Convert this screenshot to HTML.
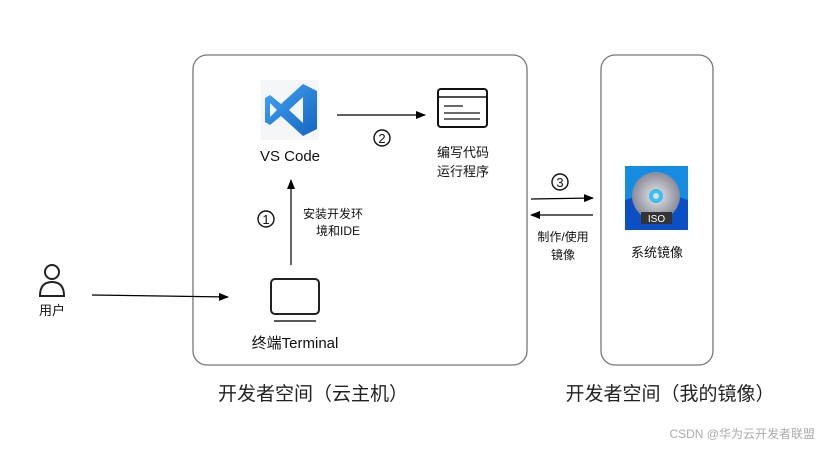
<!DOCTYPE html>
<html><head><meta charset="utf-8"><style>
html,body{margin:0;padding:0;background:#fff}
svg{display:block}
text{font-family:"Liberation Sans","Noto Sans CJK SC",sans-serif;fill:#111}
</style></head><body>
<svg width="827" height="449" viewBox="0 0 827 449" xmlns="http://www.w3.org/2000/svg">
<defs>
<marker id="a" markerWidth="10" markerHeight="8" refX="9" refY="4" orient="auto" markerUnits="userSpaceOnUse"><path d="M0,0 L10,4 L0,8 Z" fill="#000"/></marker>
<linearGradient id="vs" x1="0" y1="0" x2="1" y2="1"><stop offset="0" stop-color="#42a5f5"/><stop offset="1" stop-color="#1565c0"/></linearGradient>
<radialGradient id="cd" cx="0.5" cy="0.5" r="0.5"><stop offset="0" stop-color="#e8e8e8"/><stop offset="1" stop-color="#8a8a9a"/></radialGradient>
</defs>
<rect x="193" y="55" width="334" height="310" rx="14" fill="none" stroke="#777" stroke-width="1.3"/>
<rect x="601" y="55" width="112" height="310" rx="14" fill="none" stroke="#777" stroke-width="1.3"/>

<rect x="261" y="80" width="58" height="60" fill="#f4f6f8"/>
<path d="M303,84 L317,91 L317,129 L303,136 L281,116 L270,125 L265,122 L265,98 L270,95 L281,104 Z M303,97 L289,110 L303,123 Z M270,103 L270,117 L277,110 Z" fill="url(#vs)" fill-rule="evenodd"/>
<text x="290" y="161" font-size="15" text-anchor="middle">VS Code</text>

<rect x="438" y="89" width="49" height="38" rx="3" fill="#fff" stroke="#111" stroke-width="2"/>
<line x1="438" y1="97" x2="487" y2="97" stroke="#111" stroke-width="1.5"/>
<line x1="444" y1="106" x2="463" y2="106" stroke="#111" stroke-width="1.2"/>
<line x1="444" y1="113" x2="480" y2="113" stroke="#111" stroke-width="1.2"/>
<line x1="444" y1="119" x2="480" y2="119" stroke="#111" stroke-width="1.2"/>
<text x="463" y="157" font-size="13" text-anchor="middle">编写代码</text>
<text x="463" y="176" font-size="13" text-anchor="middle">运行程序</text>

<line x1="337" y1="115" x2="425" y2="115" stroke="#000" stroke-width="1.2" marker-end="url(#a)"/>
<circle cx="382" cy="138" r="8" fill="none" stroke="#111" stroke-width="1.4"/>
<text x="382" y="143" font-size="13" text-anchor="middle">2</text>

<line x1="291" y1="265" x2="291" y2="180" stroke="#000" stroke-width="1.2" marker-end="url(#a)"/>
<circle cx="266" cy="219" r="8" fill="none" stroke="#111" stroke-width="1.4"/>
<text x="266" y="224" font-size="13" text-anchor="middle">1</text>
<text x="303" y="218" font-size="12">安装开发环</text>
<text x="316" y="235" font-size="12">境和IDE</text>

<rect x="271" y="279" width="48" height="35" rx="4" fill="none" stroke="#222" stroke-width="2"/>
<line x1="274" y1="321" x2="316" y2="321" stroke="#222" stroke-width="1.5"/>
<text x="295" y="348" font-size="15" text-anchor="middle">终端Terminal</text>

<circle cx="52" cy="272" r="7" fill="none" stroke="#222" stroke-width="2"/>
<path d="M40,296 Q40,282 52,282 Q64,282 64,296 Z" fill="none" stroke="#222" stroke-width="2"/>
<text x="52" y="315" font-size="13" text-anchor="middle">用户</text>
<line x1="92" y1="295" x2="228" y2="297" stroke="#000" stroke-width="1.2" marker-end="url(#a)"/>

<circle cx="560" cy="182" r="8" fill="none" stroke="#111" stroke-width="1.4"/>
<text x="560" y="187" font-size="13" text-anchor="middle">3</text>
<line x1="531" y1="199" x2="593" y2="198" stroke="#000" stroke-width="1.2" marker-end="url(#a)"/>
<line x1="593" y1="215" x2="531" y2="215" stroke="#000" stroke-width="1.2" marker-end="url(#a)"/>
<text x="563" y="241" font-size="12" text-anchor="middle">制作/使用</text>
<text x="563" y="259" font-size="12" text-anchor="middle">镜像</text>

<rect x="625" y="166" width="63" height="64" fill="#0a4fc4"/>
<path d="M625,166 L688,166 L688,200 L656,190 L625,200 Z" fill="#1aa6ef" opacity="0.7"/>
<circle cx="656" cy="196" r="24" fill="url(#cd)"/>
<circle cx="656" cy="196" r="7" fill="#3ac0f0"/>
<circle cx="656" cy="196" r="3" fill="#ddd"/>
<rect x="641" y="212" width="31" height="12" fill="#333"/>
<text x="656.5" y="222" font-size="10" text-anchor="middle" style="fill:#fff">ISO</text>
<text x="657" y="257" font-size="13" text-anchor="middle">系统镜像</text>

<text x="313" y="400" font-size="19" text-anchor="middle" style="fill:#222">开发者空间（云主机）</text>
<text x="670" y="400" font-size="19" text-anchor="middle" style="fill:#222">开发者空间（我的镜像）</text>
<text x="815" y="438" font-size="12" text-anchor="end" style="fill:#aaa">CSDN @华为云开发者联盟</text>
</svg>
</body></html>
